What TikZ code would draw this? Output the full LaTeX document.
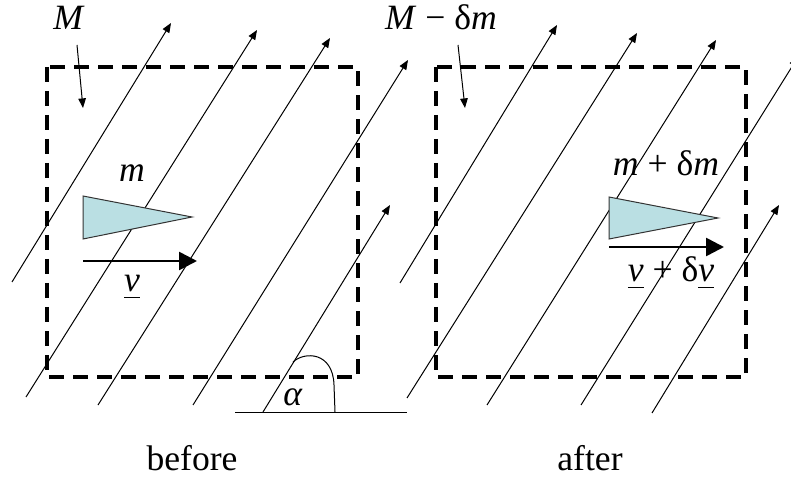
\documentclass[tikz,border=0pt]{standalone}
\usepackage{fontspec}
\setmainfont{Liberation Serif}
\usetikzlibrary{arrows.meta,positioning}
\definecolor{dropfill}{HTML}{BADFE3}
\newcommand{\uvec}[1]{\setbox0\hbox{#1}\rlap{\rule[-3pt]{\wd0}{0.7pt}}\box0\relax}

\begin{document}
\begin{tikzpicture}[x=0.5pt,y=-0.5pt,
  streamline/.style={line width=0.5pt,-{Triangle[length=4.8pt,width=3.8pt]}},
  cv/.style={draw=black,line width=1.6pt,dash pattern=on 7.5pt off 4.5pt},
  drop/.style={draw=black!80,line width=0.5pt,fill=dropfill},
  velarrow/.style={line width=1.3pt,-{Triangle[length=9pt,width=9pt]}},
  lbl/.style={font=\fontsize{17.8}{20}\selectfont,inner sep=0pt,anchor=base}]
  \useasboundingbox (0,0) rectangle (791,480);
  \clip (0,0) rectangle (791,480);

  % Control volumes
  \draw[cv] (47,67) rectangle (358,377);
  \draw[cv] (436,67) rectangle (746,377);

  % Streamlines
  \foreach \xa/\ya/\xb/\yb in {12/282/171/23, 26/397/257/30, 98/405/330/38, 193/405/408/60, 263/412/390/205,
      400/283/557/25, 407/398/637/33, 487/405/716/40, 581/405/798/57, 652/413/779/205}
    \draw[streamline] (\xa,\ya) -- (\xb,\yb);

  % Angle
  \draw[line width=0.5pt] (235,412) -- (407,412);
  \draw[line width=0.5pt] (293,362) .. controls (305,351) and (333,352) .. (334,385) -- (335,412);
  \node[lbl] (alpha) at (293,405) {\textit{α}};

  % Before
  \node[lbl] (Mlbl) at (69,30) {\textit{M}};
  \coordinate (Mtail) at (77,45);
  \coordinate (Mtip) at (83,108);
  \draw[streamline] (Mtail) -- (Mtip);
  \filldraw[drop] (83,196) -- (83,239) -- (192,217) -- cycle;
  \node[lbl] (mlbl) at (132,182) {\textit{m}};
  \coordinate (vtail) at (83,261);
  \coordinate (vtip) at (197,261);
  \draw[velarrow] (vtail) -- (vtip);
  \node[lbl] (vlbl) at (132,292) {\uvec{\textit{v}}};
  \node[lbl] (before) at (192,470) {before};

  % After
  \node[lbl] (MDlbl) at (441,30) {\textit{M} − δ\textit{m}};
  \coordinate (MDtail) at (458,45);
  \coordinate (MDtip) at (465,108);
  \draw[streamline] (MDtail) -- (MDtip);
  \filldraw[drop] (609,197) -- (609,239) -- (718,218) -- cycle;
  \node[lbl] (mdm) at (666,176) {\textit{m} + δ\textit{m}};
  \coordinate (vdvtail) at (609,247);
  \coordinate (vdvtip) at (724,247);
  \draw[velarrow] (vdvtail) -- (vdvtip);
  \node[lbl] (vdv) at (671,282) {\uvec{\textit{v}} + δ\uvec{\textit{v}}};
  \node[lbl] (after) at (590,470) {after};
\end{tikzpicture}
\end{document}
